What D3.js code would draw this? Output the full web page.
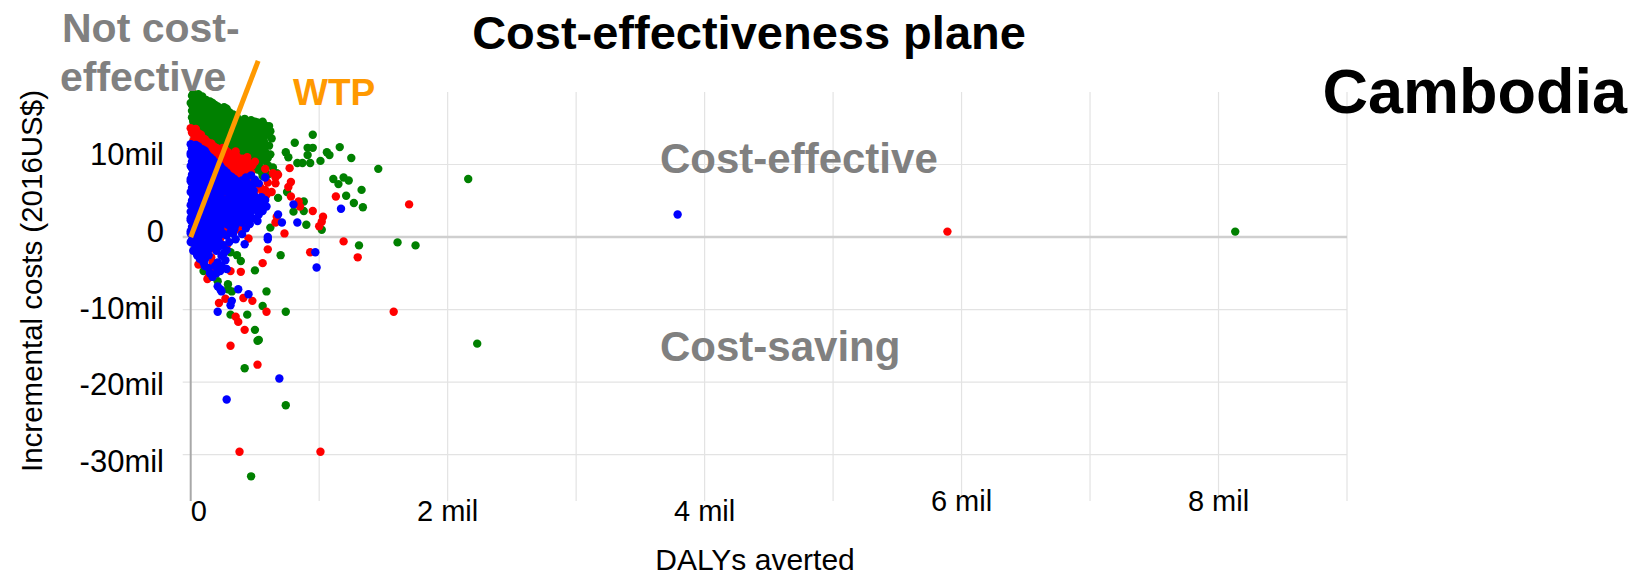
<!DOCTYPE html>
<html>
<head>
<meta charset="utf-8">
<script src="https://cdn.jsdelivr.net/npm/d3@7"></script>
<style>
  html, body { margin: 0; padding: 0; background: #fff; }
  svg { display: block; font-family: "Liberation Sans", Arial, Helvetica, sans-serif; }
</style>
</head>
<body>
<svg id="chart" width="1634" height="577"></svg>
<script>
// DALYs averted (millions) and incremental costs (millions of 2016 US$) per simulation run

const greenRuns = [
  [0.02,19.8],[0.06,19.7],[0.09,19.4],
  [0.01,19.5],[0.05,19.4],[0.03,19.2],[0.07,19.2],
  [0.02,19.0],[0.08,19.0],[0.12,18.9],
  [0.04,18.7],[0.10,18.7],[0.15,18.7],
  [0.00,18.5],[0.06,18.5],[0.11,18.4],[0.17,18.5],
  [0.01,18.2],[0.07,18.2],[0.13,18.2],[0.19,18.2],
  [0.03,18.0],[0.09,18.0],[0.15,17.9],[0.21,18.0],[0.26,17.9],
  [0.05,17.7],[0.11,17.7],[0.17,17.7],[0.23,17.7],[0.28,17.7],
  [0.01,17.4],[0.07,17.4],[0.13,17.3],[0.19,17.4],[0.24,17.3],[0.30,17.2],
  [0.04,17.1],[0.10,17.1],[0.16,17.1],[0.22,17.1],[0.27,17.1],[0.33,16.9],
  [0.04,16.8],[0.10,16.8],[0.16,16.7],[0.22,16.8],[0.28,16.6],
  [0.01,16.5],[0.07,16.5],[0.13,16.5],[0.19,16.5],[0.25,16.5],[0.31,16.5],[0.36,16.5],
  [0.02,16.2],[0.08,16.2],[0.14,16.1],[0.20,16.2],[0.26,16.1],[0.32,16.0],[0.38,15.9],
  [0.42,16.3],[0.47,16.1],[0.52,15.8],
  [0.02,15.9],[0.08,15.9],[0.14,15.9],[0.20,15.9],[0.26,15.9],[0.32,15.9],[0.44,15.9],[0.50,15.9],[0.56,15.9],
  [0.05,15.6],[0.11,15.6],[0.17,15.5],[0.23,15.6],[0.29,15.5],[0.35,15.4],[0.41,15.5],[0.47,15.6],
  [0.04,15.3],[0.11,15.3],[0.17,15.3],[0.23,15.3],[0.30,15.3],[0.36,15.3],[0.42,15.3],[0.49,15.3],[0.55,15.3],[0.61,15.3],
  [0.01,15.0],[0.08,15.0],[0.14,14.9],[0.20,15.0],[0.26,14.9],[0.33,14.8],[0.39,14.9],[0.45,15.0],[0.52,14.8],
  [0.07,14.7],[0.14,14.7],[0.20,14.7],[0.27,14.7],[0.33,14.7],[0.39,14.7],[0.46,14.7],[0.58,14.7],[0.62,14.6],
  [0.04,14.4],[0.11,14.4],[0.17,14.3],[0.23,14.4],[0.30,14.3],[0.36,14.2],[0.42,14.3],[0.48,14.4],[0.55,14.2],
  [0.09,14.1],[0.15,14.1],[0.21,14.1],[0.27,14.1],[0.34,14.1],[0.40,14.1],[0.46,14.1],[0.52,14.1],[0.59,14.1],
  [0.07,13.8],[0.13,13.8],[0.20,13.7],[0.27,13.8],[0.33,13.7],[0.40,13.6],[0.46,13.7],[0.53,13.8],[0.63,13.6],
  [0.17,13.5],[0.24,13.5],[0.30,13.5],[0.37,13.5],[0.44,13.5],[0.51,13.5],[0.56,13.5],
  [0.15,13.2],[0.22,13.2],[0.29,13.1],[0.36,13.2],[0.43,13.1],[0.50,13.0],[0.57,13.2],
  [0.20,12.9],[0.27,12.9],[0.33,12.9],[0.40,12.9],[0.47,12.9],[0.54,12.9],[0.61,12.6],
  [0.25,12.6],[0.31,12.6],[0.38,12.5],[0.45,12.6],[0.52,12.4],
  [0.28,12.3],[0.34,12.3],[0.41,12.3],[0.48,12.3],[0.56,12.3],
  [0.30,12.0],[0.36,12.0],[0.42,11.9],[0.49,12.0],[0.55,11.8],[0.62,11.4],
  [0.33,11.7],[0.39,11.7],[0.45,11.7],[0.52,11.7],[0.58,11.7],
  [0.35,11.4],[0.41,11.4],[0.48,11.3],[0.54,11.4],[0.60,10.9],
  [0.40,11.1],[0.46,11.1],[0.53,11.1],
  [0.44,10.8],[0.50,10.8],[0.57,10.7],
  [0.45,10.5],[0.51,10.5],[0.58,10.5],
  [0.47,10.2],[0.53,10.1],[0.64,9.6],
  [0.49,9.6],[0.55,9.5],[0.58,9.2],[0.52,9.3],
  [0.55,9.0],[0.60,8.6],[0.56,8.4],
  [0.58,15.4],[0.49,14.7],[0.95,14.1],[0.81,13.0],[0.91,12.3],[0.95,12.3],[0.91,11.3],
  [0.87,10.2],[0.93,10.2],[1.06,11.7],[1.08,11.3],[1.16,12.4],[1.01,10.5],[1.25,10.9],
  [1.46,9.4],[2.16,8.0],[1.11,8.0],[1.19,8.2],[1.23,7.8],[1.15,7.3],[1.33,6.5],[1.21,5.7],
  [1.27,4.7],[1.34,4.1],[0.88,4.9],[0.88,3.6],[0.90,1.7],[1.02,1.0],[1.31,-1.15],
  [1.61,-0.74],[1.75,-1.15],[0.60,9.9],[0.67,8.8],[0.74,11.7],[0.76,11.0],[0.83,10.2],
  [0.68,5.4],[0.80,3.5],[0.62,1.3],[0.75,6.2],
  [0.70,-2.5],[0.50,-4.6],[0.59,-7.5],[0.56,-9.5],[0.74,-10.3],[0.44,-10.7],[0.31,-10.7],
  [0.50,-12.8],[0.52,-14.3],[0.53,-14.2],[0.42,-18.1],[0.74,-23.2],[0.47,-33.0],
  [8.13,0.75],[2.23,-14.7],[0.31,-2.1],[0.36,-2.5],[0.39,-3.3],[0.10,-4.7],[0.21,-6.1],
  [0.29,-6.5],[0.32,-7.5],[0.29,-7.2]
];

const redRuns = [
  [0.00,15.0],[0.04,14.9],[0.02,14.7],
  [0.01,14.4],[0.06,14.3],[0.04,14.1],[0.08,14.1],
  [0.03,13.8],[0.09,13.7],[0.06,13.5],[0.11,13.5],
  [0.02,13.2],[0.08,13.2],[0.13,13.1],
  [0.05,12.9],[0.10,12.9],[0.16,12.9],
  [0.06,12.6],[0.12,12.6],[0.18,12.5],
  [0.08,12.3],[0.14,12.3],[0.20,12.3],[0.25,12.3],
  [0.10,12.0],[0.16,12.0],[0.22,11.9],[0.27,12.0],
  [0.12,11.7],[0.18,11.7],[0.24,11.7],[0.29,11.7],[0.35,11.8],
  [0.14,11.4],[0.20,11.4],[0.26,11.3],[0.32,11.4],
  [0.18,11.1],[0.24,11.1],[0.30,11.1],[0.36,11.1],[0.44,11.0],
  [0.22,10.8],[0.28,10.8],[0.34,10.7],[0.40,10.8],
  [0.25,10.5],[0.31,10.5],[0.37,10.5],[0.43,10.5],[0.50,10.4],
  [0.27,10.2],[0.33,10.2],[0.39,10.1],[0.45,10.2],
  [0.29,9.9],[0.35,9.9],[0.41,9.9],[0.48,9.9],
  [0.30,9.6],[0.36,9.6],[0.42,9.5],[0.58,9.4],
  [0.33,9.3],[0.39,9.3],[0.45,9.3],
  [0.35,9.0],[0.41,9.0],[0.47,8.9],[0.64,8.8],
  [0.38,8.7],[0.44,8.7],
  [0.40,8.4],[0.46,8.4],
  [0.42,8.1],
  [0.44,7.8],[0.66,7.4],
  [0.46,7.4],
  [0.47,7.0],[0.52,6.9],[0.59,5.8],[0.50,6.4],
  [0.28,6.5],[0.33,5.2],[0.30,3.6],[0.36,2.2],[0.42,4.0],[0.26,1.0],[0.38,1.0],
  [0.25,5.8],[0.31,4.6],[0.34,3.0],[0.40,1.6],[0.23,-0.2],[0.16,-2.8],
  [0.45,-0.2],[0.73,0.5],[0.12,-1.0],[0.18,-1.6],[0.07,-2.2],[0.28,-1.2],
  [0.77,9.5],[0.68,8.6],[0.66,8.2],[0.60,7.5],[0.58,6.5],[0.63,6.2],[0.78,7.6],[0.54,6.9],
  [0.56,6.1],[1.13,5.6],[1.70,4.5],[0.78,5.6],[0.84,4.9],[0.85,4.2],[0.95,3.6],[1.03,2.8],
  [1.02,2.1],[1.00,1.5],[0.67,2.8],[0.66,2.0],[1.19,-0.6],[1.30,-2.8],[0.93,-2.1],[0.76,6.9],
  [0.06,-3.8],[0.17,-3.5],[0.19,-4.7],[0.31,-4.7],[0.14,-5.5],[0.13,-5.8],[0.41,-8.4],
  [0.48,-8.8],[0.27,-8.5],[0.22,-9.1],[0.59,-10.3],[0.35,-11.0],[0.37,-11.7],[0.42,-12.8],
  [0.31,-15.0],[0.52,-17.6],[0.38,-29.6],[1.01,-29.6],[0.60,-1.7],[0.56,-3.6],[0.39,-4.8],
  [1.58,-10.3],[5.89,0.75]
];

const blueRuns = [
  [0.00,12.8],[0.04,12.7],[0.02,12.5],[0.06,12.5],
  [0.01,12.2],[0.05,12.2],[0.09,12.1],
  [0.02,11.9],[0.07,11.9],[0.11,11.9],
  [0.00,11.6],[0.04,11.6],[0.08,11.5],[0.12,11.6],
  [0.00,11.3],[0.04,11.3],[0.08,11.3],[0.13,11.3],
  [0.02,11.0],[0.06,11.0],[0.10,10.9],[0.15,11.0],
  [0.03,10.7],[0.07,10.7],[0.12,10.7],[0.17,10.7],
  [0.01,10.4],[0.05,10.4],[0.09,10.3],[0.14,10.4],[0.19,10.3],
  [0.02,10.1],[0.06,10.1],[0.11,10.1],[0.16,10.1],[0.21,10.1],
  [0.00,9.8],[0.04,9.8],[0.08,9.7],[0.13,9.8],[0.18,9.7],[0.23,9.8],
  [0.01,9.5],[0.05,9.5],[0.10,9.5],[0.15,9.5],[0.20,9.5],[0.24,9.5],
  [0.02,9.2],[0.06,9.2],[0.11,9.1],[0.16,9.2],[0.21,9.1],[0.26,9.2],
  [0.03,8.9],[0.08,8.9],[0.13,8.9],[0.18,8.9],[0.23,8.9],[0.28,8.9],
  [0.01,8.6],[0.05,8.6],[0.10,8.5],[0.15,8.6],[0.20,8.5],[0.25,8.6],[0.30,8.5],
  [0.02,8.3],[0.07,8.3],[0.12,8.3],[0.17,8.3],[0.22,8.3],[0.27,8.3],[0.32,8.3],
  [0.00,8.0],[0.04,8.0],[0.09,7.9],[0.14,8.0],[0.19,7.9],[0.24,8.0],[0.29,7.9],[0.34,8.0],
  [0.00,7.7],[0.05,7.7],[0.10,7.7],[0.15,7.7],[0.20,7.7],[0.25,7.7],[0.31,7.7],[0.36,7.7],
  [0.02,7.4],[0.07,7.4],[0.12,7.3],[0.17,7.4],[0.22,7.3],[0.27,7.4],[0.33,7.3],[0.38,7.4],
  [0.40,7.8],[0.44,7.5],[0.48,7.2],[0.43,8.2],[0.50,7.9],[0.53,7.4],[0.47,8.5],
  [0.03,7.1],[0.08,7.1],[0.13,7.1],[0.19,7.1],[0.24,7.1],[0.29,7.1],[0.35,7.1],[0.40,7.1],
  [0.01,6.8],[0.06,6.8],[0.11,6.7],[0.16,6.8],[0.21,6.7],[0.26,6.8],[0.31,6.7],[0.36,6.8],[0.42,6.7],[0.45,6.8],
  [0.02,6.5],[0.08,6.5],[0.13,6.5],[0.18,6.5],[0.23,6.5],[0.34,6.5],[0.39,6.5],[0.44,6.5],[0.49,6.4],
  [0.00,6.2],[0.05,6.2],[0.10,6.1],[0.15,6.2],[0.20,6.1],[0.25,6.2],[0.30,6.1],[0.35,6.2],[0.40,6.1],[0.46,6.2],
  [0.04,5.9],[0.09,5.9],[0.14,5.9],[0.19,5.9],[0.30,5.9],[0.36,5.9],[0.42,5.9],[0.48,5.9],
  [0.02,5.6],[0.07,5.6],[0.12,5.5],[0.17,5.6],[0.22,5.5],[0.33,5.5],[0.38,5.6],[0.44,5.5],[0.50,5.6],[0.55,5.5],
  [0.03,5.3],[0.08,5.3],[0.14,5.3],[0.19,5.3],[0.24,5.3],[0.29,5.3],[0.35,5.3],[0.40,5.3],[0.46,5.3],[0.52,5.3],
  [0.01,5.0],[0.06,5.0],[0.11,4.9],[0.16,5.0],[0.21,4.9],[0.26,5.0],[0.37,5.0],[0.42,4.9],[0.48,5.0],[0.54,4.9],[0.58,5.1],
  [0.02,4.7],[0.08,4.7],[0.13,4.7],[0.18,4.7],[0.23,4.7],[0.28,4.7],[0.34,4.7],[0.39,4.7],[0.45,4.7],[0.51,4.7],[0.56,4.7],
  [0.00,4.4],[0.05,4.4],[0.10,4.3],[0.15,4.4],[0.20,4.3],[0.25,4.4],[0.30,4.3],[0.35,4.4],[0.41,4.3],[0.47,4.4],[0.53,4.3],
  [0.03,4.1],[0.08,4.1],[0.13,4.1],[0.18,4.1],[0.23,4.1],[0.28,4.1],[0.33,4.1],[0.39,4.1],[0.45,4.1],[0.52,4.1],[0.59,4.2],
  [0.02,3.8],[0.07,3.8],[0.12,3.7],[0.17,3.8],[0.22,3.7],[0.27,3.8],[0.32,3.7],[0.38,3.8],[0.44,3.7],[0.50,3.8],
  [0.00,3.5],[0.04,3.5],[0.09,3.5],[0.14,3.5],[0.19,3.5],[0.24,3.5],[0.35,3.5],[0.41,3.5],[0.47,3.5],[0.56,3.6],
  [0.01,3.2],[0.06,3.2],[0.11,3.1],[0.16,3.2],[0.21,3.1],[0.26,3.2],[0.31,3.1],[0.37,3.2],[0.43,3.1],[0.53,3.1],
  [0.03,2.9],[0.08,2.9],[0.13,2.9],[0.18,2.9],[0.23,2.9],[0.28,2.9],[0.39,2.9],[0.45,2.9],
  [0.00,2.6],[0.05,2.6],[0.10,2.5],[0.15,2.6],[0.20,2.5],[0.25,2.6],[0.30,2.5],[0.36,2.6],[0.42,2.5],[0.48,2.6],
  [0.00,2.3],[0.04,2.3],[0.09,2.3],[0.14,2.3],[0.19,2.3],[0.25,2.3],[0.31,2.3],[0.52,2.2],
  [0.02,2.0],[0.07,2.0],[0.12,1.9],[0.17,2.0],[0.22,1.9],[0.28,2.0],[0.34,1.9],[0.40,2.0],[0.46,1.8],
  [0.03,1.7],[0.08,1.7],[0.13,1.7],[0.19,1.7],[0.24,1.7],[0.29,1.7],[0.35,1.7],
  [0.01,1.4],[0.06,1.4],[0.11,1.3],[0.16,1.4],[0.21,1.3],[0.32,1.3],[0.43,1.2],
  [0.02,1.1],[0.07,1.1],[0.13,1.1],[0.18,1.1],[0.23,1.1],[0.34,1.1],
  [0.00,0.8],[0.05,0.8],[0.10,0.7],[0.15,0.8],[0.20,0.7],[0.31,0.7],
  [0.00,0.5],[0.04,0.5],[0.09,0.5],[0.14,0.5],[0.19,0.5],[0.25,0.5],[0.33,0.5],[0.40,0.4],
  [0.02,0.2],[0.07,0.2],[0.12,0.1],[0.17,0.2],[0.22,0.1],[0.28,0.2],
  [0.04,-0.1],[0.09,-0.1],[0.14,-0.1],[0.19,-0.1],[0.35,-0.3],
  [0.01,-0.4],[0.06,-0.4],[0.11,-0.5],[0.16,-0.4],[0.21,-0.5],
  [0.00,-0.7],[0.05,-0.7],[0.10,-0.7],[0.16,-0.7],[0.22,-0.7],[0.30,-0.7],
  [0.03,-1.0],[0.08,-1.0],[0.13,-1.1],[0.19,-1.0],[0.25,-1.1],
  [0.06,-1.3],[0.11,-1.3],[0.17,-1.3],[0.22,-1.3],
  [0.04,-1.6],[0.09,-1.6],[0.14,-1.7],[0.28,-1.8],
  [0.02,-1.9],[0.08,-1.9],[0.20,-1.9],[0.26,-2.2],[0.24,-2.6],
  [0.06,-2.2],[0.12,-2.2],[0.05,-2.5],[0.14,-2.5],[0.07,-3.0],
  [0.11,-4.0],[0.19,-4.0],[0.15,-5.0],[0.20,-5.0],
  [0.09,-2.7],[0.11,-3.1],[0.10,-3.5],[0.21,-3.5],[0.24,-4.0],[0.27,-3.2],[0.28,-4.4],
  [0.23,-4.7],[0.14,-4.3],[0.17,-5.5],[0.21,-6.8],[0.23,-7.2],[0.24,-7.5],[0.37,-7.2],
  [0.45,-7.9],[0.32,-8.8],[0.31,-9.4],[0.21,-10.3],[0.42,-1.0],[0.60,-0.3],[0.97,-2.1],
  [0.98,-4.2],[1.17,3.9],[0.69,-19.5],[0.28,-22.4],[3.79,3.1],
  [0.58,8.2],[0.80,4.5],[0.68,3.1],[0.83,2.0],[0.71,2.0],[0.60,0.0]
];

const seriesColors = ["#008000", "#ff0000", "#0000ff"];

const xTickValues = [0, 2, 4, 6, 8];
const xTickLabels = ["0", "2 mil", "4 mil", "6 mil", "8 mil"];
const xGridValues = [1, 2, 3, 4, 5, 6, 7, 8, 9];

const yTickValues = [10, 0, -10, -20, -30];
const yTickLabels = ["10mil", "0", "-10mil", "-20mil", "-30mil"];
const yGridValues = [10, -10, -20, -30];

// willingness-to-pay threshold ray from the origin
const wtpLine = [[0, 0], [0.525, 24.3]];

const svg = d3.select("#chart");

const x = d3.scaleLinear().domain([0, 9]).range([190.7, 1347]);
const y = d3.scaleLinear().domain([-36.4, 20]).range([501, 92]);
// tick labels sit on a slightly wider spacing than the gridlines
const yLabelPos = d3.scaleLinear().domain([10, -30]).range([154, 461]);

// gridlines
const grid = svg.append("g");
grid.selectAll("line.v").data(xGridValues).join("line")
  .attr("x1", d => x(d)).attr("x2", d => x(d))
  .attr("y1", y(20)).attr("y2", y(-36.4))
  .attr("stroke", "#e3e3e3").attr("stroke-width", 1.2);
grid.selectAll("line.h").data(yGridValues).join("line")
  .attr("x1", x(0) - 8).attr("x2", x(9))
  .attr("y1", d => y(d)).attr("y2", d => y(d))
  .attr("stroke", "#e3e3e3").attr("stroke-width", 1.2);

// zero cost line and vertical axis
svg.append("line")
  .attr("x1", x(0) - 8).attr("x2", x(9))
  .attr("y1", y(0)).attr("y2", y(0))
  .attr("stroke", "#cfcfcf").attr("stroke-width", 2.5);
svg.append("line")
  .attr("x1", x(0)).attr("x2", x(0))
  .attr("y1", y(20)).attr("y2", y(-36.4))
  .attr("stroke", "#a8a8a8").attr("stroke-width", 2);

// scatter points, drawn green, then red, then blue on top
const layers = [greenRuns, redRuns, blueRuns];
layers.forEach((runs, i) => {
  svg.append("g").selectAll("circle").data(runs).join("circle")
    .attr("cx", d => x(d[0]))
    .attr("cy", d => y(d[1]))
    .attr("r", 4.2)
    .attr("fill", seriesColors[i]);
});

// WTP ray
svg.append("line")
  .attr("x1", x(wtpLine[0][0])).attr("y1", y(wtpLine[0][1]))
  .attr("x2", x(wtpLine[1][0])).attr("y2", y(wtpLine[1][1]))
  .attr("stroke", "#ff9900").attr("stroke-width", 5);

// y tick labels
svg.append("g").selectAll("text").data(yTickValues).join("text")
  .attr("x", 164)
  .attr("y", d => yLabelPos(d))
  .attr("dy", "0.36em")
  .attr("text-anchor", "end")
  .attr("font-size", 31)
  .attr("fill", "#000")
  .text((d, i) => yTickLabels[i]);

// x tick labels
svg.append("g").selectAll("text").data(xTickValues).join("text")
  .attr("x", d => x(d))
  .attr("y", d => d >= 6 ? 511 : 521)
  .attr("text-anchor", d => d === 0 ? "start" : "middle")
  .attr("font-size", 29)
  .attr("fill", "#000")
  .text((d, i) => xTickLabels[i]);

// axis titles
svg.append("text")
  .attr("transform", "translate(42,281) rotate(-90)")
  .attr("text-anchor", "middle")
  .attr("font-size", 29.5)
  .attr("fill", "#000")
  .text("Incremental costs (2016US$)");

svg.append("text")
  .attr("x", 755).attr("y", 570)
  .attr("text-anchor", "middle")
  .attr("font-size", 30)
  .attr("fill", "#000")
  .text("DALYs averted");

// headings and quadrant annotations
svg.append("text")
  .attr("x", 749).attr("y", 49)
  .attr("text-anchor", "middle")
  .attr("font-size", 47).attr("font-weight", "bold")
  .attr("fill", "#000")
  .text("Cost-effectiveness plane");

svg.append("text")
  .attr("x", 1627).attr("y", 113)
  .attr("text-anchor", "end")
  .attr("font-size", 63).attr("font-weight", "bold")
  .attr("fill", "#000")
  .text("Cambodia");

const gray = "#808080";
svg.append("text")
  .attr("x", 62).attr("y", 42)
  .attr("font-size", 41).attr("font-weight", "bold")
  .attr("fill", gray)
  .text("Not cost-");
svg.append("text")
  .attr("x", 60).attr("y", 91)
  .attr("font-size", 41).attr("font-weight", "bold")
  .attr("fill", gray)
  .text("effective");

svg.append("text")
  .attr("x", 293).attr("y", 105)
  .attr("font-size", 37).attr("font-weight", "bold")
  .attr("fill", "#ff9900")
  .text("WTP");

svg.append("text")
  .attr("x", 660).attr("y", 173)
  .attr("font-size", 42).attr("font-weight", "bold")
  .attr("fill", gray)
  .text("Cost-effective");

svg.append("text")
  .attr("x", 660).attr("y", 361)
  .attr("font-size", 42).attr("font-weight", "bold")
  .attr("fill", gray)
  .text("Cost-saving");
</script>
</body>
</html>
